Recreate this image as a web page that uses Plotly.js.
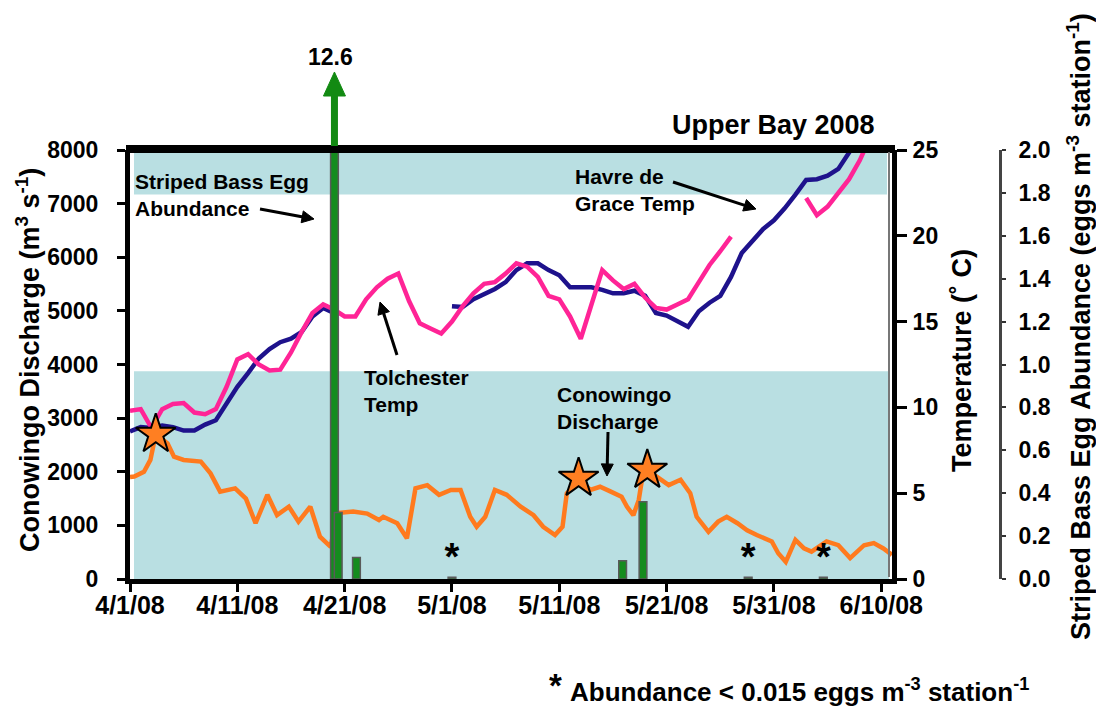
<!DOCTYPE html>
<html>
<head>
<meta charset="utf-8">
<script src="https://cdn.plot.ly/plotly-3.0.1.min.js"></script>
<style>html,body{margin:0;padding:0;background:#fff;}#chart{width:1096px;height:708px;}</style>
</head>
<body>
<div id="chart"></div>
<script>
// ---------------- DATA ----------------
// Havre de Grace water temperature (deg C), one value per day from 4/1/08
const havreTemp = [8.6, 8.85, 8.8, 8.95, 8.85, 8.65, 8.65, 9.0, 9.25, 10.25,
  11.2, 12.0, 12.85, 13.4, 13.8, 14.0, 14.4, 15.3, 15.8, 15.5,
  null, null, null, null, null, null, null, null, null, null,
  15.9, 15.85, 16.3, 16.6, 16.9, 17.3, 18.0, 18.4, 18.4, 18.0,
  17.7, 17.0, 17.0, 17.0, 16.85, 16.65, 16.65, 16.8, 16.5, 15.5,
  15.35, 15.0, 14.7, 15.6, 16.1, 16.5, 17.6, 19.0, 19.7, 20.4,
  20.9, 21.6, 22.4, 23.25, 23.3, 23.5, 23.9, 24.9, 25.8, null, null];
// Tolchester water temperature (deg C), one value per day from 4/1/08
const tolchTemp = [9.8, 9.9, 8.8, 9.9, 10.2, 10.25, 9.7, 9.6, 9.9, 11.2,
  12.8, 13.1, 12.5, 12.15, 12.2, 13.2, 14.4, 15.5, 16.0, 15.7,
  15.3, 15.3, 16.3, 17.0, 17.5, 17.8, 16.2, 14.9, 14.6, 14.3,
  15.0, 15.9, 16.65, 17.2, 17.3, 17.8, 18.4, 18.2, 17.6, 16.5,
  16.3, 15.3, 14.0, 16.1, 18.0, 17.4, 16.9, 17.2, 16.4, 15.8,
  15.7, 16.0, 16.3, 17.3, 18.3, 19.1, 19.95, null, null, null,
  null, null, null, 22.2, 21.2, 21.7, 22.5, 23.3, 24.4, 25.8, null];
// Conowingo discharge (m3/s): time in days after 4/1/08 and value
const flowDays = [0, 0.4, 1.3, 1.9, 2.4, 3.5, 4.1, 5.0, 6.6, 7.5, 8.4, 9.8, 10.8, 11.7, 12.8,
  13.7, 14.8, 15.7, 16.8, 17.7, 18.7, 19.3, 20.8, 22.1, 23.2, 23.6, 24.9, 25.8, 26.6, 27.7,
  28.8, 29.9, 30.8, 31.7, 32.3, 33.1, 34.0, 35.1, 36.4, 37.6, 38.5, 39.6, 40.3, 40.7, 41.3,
  41.8, 42.9, 43.8, 44.8, 45.8, 46.3, 46.9, 47.4, 47.7, 48.2, 49.4, 50.2, 51.3, 52.2, 52.8,
  53.9, 54.8, 55.6, 56.6, 57.5, 58.4, 59.8, 60.4, 61.1, 62.0, 62.8, 63.5, 64.9, 66.0, 67.1,
  68.4, 69.3, 70.2, 71.0];
const flowValues = [1900, 1910, 2000, 2220, 2700, 2530, 2280, 2220, 2190, 1970, 1630, 1690, 1500, 1040, 1570,
  1190, 1350, 1070, 1350, 790, 600, 1230, 1260, 1220, 1100, 1160, 1040, 760, 1690, 1750,
  1570, 1660, 1660, 1160, 975, 1160, 1660, 1570, 1350, 1190, 975, 820, 975, 1600, 1720,
  1880, 1660, 1720, 1630, 1535, 1350, 1190, 1470, 1850, 2030, 1850, 1750, 1850, 1600, 1160,
  880, 1070, 1160, 1040, 910, 820, 700, 480, 320, 730, 570, 510, 700, 630, 390,
  630, 670, 570, 450];
// Discharge peaks marked with stars (days after 4/1/08, m3/s)
const starDays = [2.4, 41.8, 48.2];
const starValues = [2700, 1880, 2030];
// Striped bass egg abundance (eggs m-3 station-1) by sampling day (days after 4/1/08)
const eggDays = [19.05, 19.4, 21.1, 30.0, 45.9, 47.8, 57.6, 64.6];
const eggValues = [12.6, 0.31, 0.1, 0.008, 0.085, 0.36, 0.008, 0.008];
const eggLowLimit = 0.015;
// Axis ticks
const xTickDays = [0, 10, 20, 30, 40, 50, 60, 70];
const xTickLabels = ['4/1/08', '4/11/08', '4/21/08', '5/1/08', '5/11/08', '5/21/08', '5/31/08', '6/10/08'];
const flowTicks = [0, 1000, 2000, 3000, 4000, 5000, 6000, 7000, 8000];
const tempTicks = [0, 5, 10, 15, 20, 25];
const eggTicks = [0, 0.2, 0.4, 0.6, 0.8, 1.0, 1.2, 1.4, 1.6, 1.8, 2.0];
// Temperature shading bands (deg C)
const bandLow = [0, 12.1];
const bandHigh = [22.4, 25];

// ---------------- HELPERS ----------------
const startUTC = Date.UTC(2008, 3, 1);
function dayToDate(d) {
  const t = new Date(startUTC + Math.round(d * 1440) * 60000);
  const p = n => String(n).padStart(2, '0');
  return `${t.getUTCFullYear()}-${p(t.getUTCMonth() + 1)}-${p(t.getUTCDate())} ${p(t.getUTCHours())}:${p(t.getUTCMinutes())}`;
}
const dailyDates = havreTemp.map((_, i) => dayToDate(i));
// pixel -> paper helpers for label placement
const PL = 130, PW = 870, PB = 579, PH = 429, XW = 762, XDAYS = 71;
const PX = x => (x - PL) / PW;
const PY = y => (PB - y) / PH;
const dayPx = d => PL + d / XDAYS * XW;

const FONT = 'Liberation Sans, Arial, Helvetica, sans-serif';
const bold = (size, color) => ({family: FONT, size: size, color: color || '#000', weight: 'bold'});

const navy = '#1E128C';
const pink = '#FF2496';
const orange = '#FF7A1E';
const green = '#158C1E';

// ---------------- TRACES ----------------
const lowIdx = eggValues.map((v, i) => v < eggLowLimit ? i : -1).filter(i => i >= 0);
const traces = [
  {x: dailyDates, y: havreTemp, type: 'scatter', mode: 'lines', yaxis: 'y',
   line: {color: navy, width: 4.5}, connectgaps: false, name: 'Havre de Grace Temp', hoverinfo: 'skip'},
  {x: dailyDates, y: tolchTemp, type: 'scatter', mode: 'lines', yaxis: 'y',
   line: {color: pink, width: 4.5}, connectgaps: false, name: 'Tolchester Temp', hoverinfo: 'skip'},
  {x: flowDays.map(dayToDate), y: flowValues, type: 'scatter', mode: 'lines', yaxis: 'y2',
   line: {color: orange, width: 4.5}, name: 'Conowingo Discharge', hoverinfo: 'skip'},
  {x: starDays.map(dayToDate), y: starValues, type: 'scatter', mode: 'markers', yaxis: 'y2',
   marker: {symbol: 'star', size: 30, color: '#FF7F22', line: {color: '#000', width: 2}},
   cliponaxis: false, hoverinfo: 'skip'},
  {x: eggDays.map(dayToDate), y: eggValues, type: 'bar', yaxis: 'y3',
   width: 0.72 * 86400000,
   marker: {color: green, line: {color: '#5a5a5a', width: 1.5}}, hoverinfo: 'skip'},
  {x: lowIdx.map(i => dayToDate(eggDays[i])), y: lowIdx.map(() => 0),
   type: 'scatter', mode: 'text', yaxis: 'y3', text: lowIdx.map(() => '*'),
   textposition: 'top center', textfont: bold(38), cliponaxis: false, hoverinfo: 'skip'}
];

// ---------------- ARROWS (drawn as shapes) ----------------
function arrowShapes(hx, hy, tx, ty, width, headLen, headHalf, color) {
  const dx = hx - tx, dy = hy - ty, L = Math.hypot(dx, dy);
  const ux = dx / L, uy = dy / L, nx = -uy, ny = ux;
  const bx = hx - ux * headLen, by = hy - uy * headLen;
  const pts = [[hx, hy], [bx + nx * headHalf, by + ny * headHalf], [bx - nx * headHalf, by - ny * headHalf]];
  const path = 'M' + pts.map(p => PX(p[0]).toFixed(5) + ',' + PY(p[1]).toFixed(5)).join(' L') + ' Z';
  return [
    {type: 'line', xref: 'paper', yref: 'paper', x0: PX(tx), y0: PY(ty),
     x1: PX(bx + ux * 1), y1: PY(by + uy * 1), line: {color: color, width: width}},
    {type: 'path', xref: 'paper', yref: 'paper', path: path, fillcolor: color, line: {color: color, width: 1}}
  ];
}

const label = (x, y, text, size, opts) => Object.assign({
  xref: 'paper', yref: 'paper', x: PX(x), y: PY(y), text: text, showarrow: false,
  font: bold(size), align: 'left', xanchor: 'left', yanchor: 'top'
}, opts || {});

const bigX = dayPx(eggDays[0]);

const layout = {
  width: 1096, height: 708,
  margin: {l: PL, r: 1096 - PL - PW, t: 150, b: 708 - PB},
  paper_bgcolor: '#fff', plot_bgcolor: '#fff',
  showlegend: false,
  bargap: 0,
  xaxis: {
    type: 'date', domain: [0, XW / PW],
    range: [dayToDate(0), dayToDate(XDAYS)],
    tickvals: xTickDays.map(dayToDate), ticktext: xTickLabels,
    tickfont: bold(25), ticks: 'outside', ticklen: 8, tickwidth: 3, tickcolor: '#000',
    showline: true, linewidth: 5, linecolor: '#000', showgrid: false, zeroline: false,
    ticklabelstandoff: -8
  },
  yaxis: {
    range: [0, 25], tickvals: tempTicks, side: 'right', anchor: 'x',
    tickfont: bold(23), ticks: 'outside', ticklen: 10, tickwidth: 3, tickcolor: '#000',
    showline: true, linewidth: 5, linecolor: '#000', showgrid: false, zeroline: false,
    ticklabelstandoff: 1
  },
  yaxis2: {
    range: [0, 8000], tickvals: flowTicks,
    overlaying: 'y', side: 'left', anchor: 'x',
    tickfont: bold(23), ticks: 'outside', ticklen: 8, tickwidth: 3, tickcolor: '#000',
    showline: true, linewidth: 5, linecolor: '#000', showgrid: false, zeroline: false,
    ticklabelstandoff: 14
  },
  yaxis3: {
    range: [0, 2], tickvals: eggTicks,
    tickformat: '.1f', overlaying: 'y', side: 'right', anchor: 'free', position: 1,
    tickfont: bold(23), ticks: 'outside', ticklen: 4, tickwidth: 2, tickcolor: '#333',
    showline: true, linewidth: 3, linecolor: '#444', showgrid: false, zeroline: false,
    ticklabelstandoff: 8
  },
  shapes: [
    {type: 'rect', layer: 'below', xref: 'paper', yref: 'y', x0: PX(134), x1: PX(889),
     y0: bandLow[0], y1: bandLow[1], fillcolor: '#B9DFE2', line: {width: 0}},
    {type: 'rect', layer: 'below', xref: 'paper', yref: 'y', x0: PX(134), x1: PX(887),
     y0: bandHigh[0], y1: bandHigh[1], fillcolor: '#B9DFE2', line: {width: 0}},
    {type: 'line', xref: 'paper', yref: 'paper', x0: PX(126), x1: PX(895), y0: PY(149), y1: PY(149),
     line: {color: '#000', width: 8}},
    {type: 'line', xref: 'paper', yref: 'paper', x0: PX(889), x1: PX(889), y0: PY(152), y1: PY(577),
     line: {color: '#777', width: 2}},
    // off-scale arrow for the 12.6 egg bar
    ...arrowShapes(bigX, 72, bigX, 146, 7, 24, 11, '#128A12'),
    // label pointers
    ...arrowShapes(314, 219, 260, 209, 3, 12, 6, '#000'),
    ...arrowShapes(380, 302, 397, 355, 3, 12, 6, '#000'),
    ...arrowShapes(756, 209, 673, 182, 3, 12, 6, '#000'),
    ...arrowShapes(607, 476, 608, 432, 3, 12, 6, '#000')
  ],
  annotations: [
    {xref: 'paper', yref: 'paper', x: PX(bigX), y: PY(57), text: String(eggValues[0]),
     showarrow: false, font: bold(23), xanchor: 'center', yanchor: 'middle', xshift: -4},
    // chart title
    label(877, 125, 'Upper Bay 2008', 27, {xanchor: 'right', yanchor: 'middle', align: 'right'}),
    // series labels
    label(133, 168, 'Striped Bass Egg<br>Abundance', 21),
    label(362, 364, 'Tolchester<br>Temp', 21),
    label(573, 163, 'Havre de<br>Grace Temp', 21),
    label(555, 381, 'Conowingo<br>Discharge', 21),
    // axis titles
    {xref: 'paper', yref: 'paper', x: PX(28), y: PY(360), text: 'Conowingo Discharge (m<sup>3</sup> s<sup>-1</sup>)',
     textangle: -90, showarrow: false, font: bold(27), xanchor: 'center', yanchor: 'middle'},
    {xref: 'paper', yref: 'paper', x: PX(962), y: PY(361), text: 'Temperature (˚ C)',
     textangle: -90, showarrow: false, font: bold(27), xanchor: 'center', yanchor: 'middle'},
    {xref: 'paper', yref: 'paper', x: PX(1079), y: PY(327),
     text: 'Striped Bass Egg Abundance (eggs m<sup>-3</sup> station<sup>-1</sup>)',
     textangle: -90, showarrow: false, font: bold(27), xanchor: 'center', yanchor: 'middle'},
    // footnote
    {xref: 'paper', yref: 'paper', x: PX(555), y: PY(706), text: '*',
     showarrow: false, font: bold(33), xanchor: 'center', yanchor: 'bottom'},
    {xref: 'paper', yref: 'paper', x: PX(1031), y: PY(690),
     text: 'Abundance &lt; 0.015 eggs m<sup>-3</sup> station<sup>-1</sup>',
     showarrow: false, font: bold(26), xanchor: 'right', yanchor: 'middle'}
  ]
};

Plotly.newPlot('chart', traces, layout, {displayModeBar: false, staticPlot: true});
</script>
</body>
</html>
